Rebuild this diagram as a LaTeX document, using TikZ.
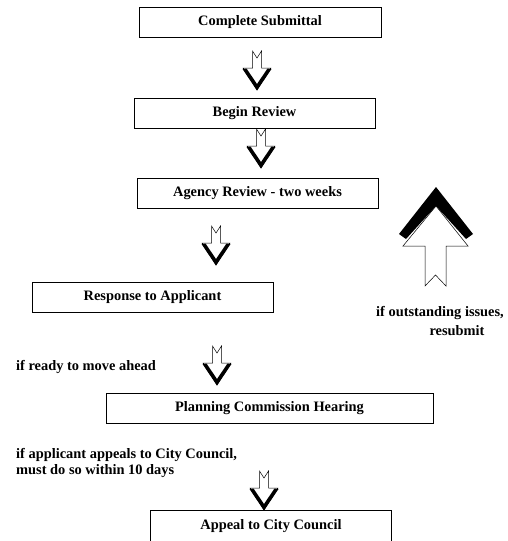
\documentclass[tikz,border=0pt]{standalone}
\usepackage{fontspec}
\setmainfont{Liberation Serif}
\begin{document}
\begin{tikzpicture}[x=1pt,y=-1pt,
  box/.style={draw, line width=0.8pt, minimum height=30pt, inner sep=0pt,
    font=\fontsize{14.4}{16}\selectfont\bfseries},
  lbl/.style={inner sep=0pt, font=\fontsize{14.4}{16}\selectfont\bfseries},
  downarrow/.pic={
    \filldraw[fill=white, draw=black, line width=0.5pt]
      (-4.5,-39) -- (0,-32) -- (4.5,-39) -- (4.5,-22) -- (14,-22) -- (0,0)
      -- (-14,-22) -- (-4.5,-22) -- cycle;
    \fill[black] (-14.5,-21) -- (0,0.5) -- (14.5,-21) -- (10.5,-21.5)
      -- (0,-6) -- (-10.5,-21.5) -- cycle;
  }]
\useasboundingbox (0,0) rectangle (507,541);
% boxes
\node[box, minimum width=242pt] (b1) at (260,22.5) {Complete Submittal};
\node[box, minimum width=241pt] (b2) at (254.5,113) {Begin Review};
\node[box, minimum width=241pt] (b3) at (257.5,193.5) {Agency Review - two weeks};
\node[box, minimum width=241pt] (b4) at (152.5,297) {Response to Applicant};
\node[box, minimum width=327pt] (b5) at (269.5,408) {Planning Commission Hearing};
\node[box, draw=none, minimum width=240pt] (b6) at (271,526) {Appeal to City Council};
\draw[line width=0.8pt] (b6.south west) -- (b6.north west) -- (b6.north east) -- (b6.south east);
% down arrows
\pic at (257,90) {downarrow};
\pic at (261,168) {downarrow};
\pic at (216,265) {downarrow};
\pic at (217,385) {downarrow};
\pic at (264,510) {downarrow};
% big up arrow
\filldraw[fill=white, draw=black, line width=0.5pt]
  (425,286) -- (435.5,275) -- (446,286) -- (446,246) -- (468,246) -- (436,206)
  -- (403,246) -- (425,246) -- cycle;
\fill[black] (399,234) -- (436,187) -- (473,234) -- (466,239) -- (436,206)
  -- (406,239) -- cycle;
% labels
\node[lbl] (t1) at (440,313) {if outstanding issues,};
\node[lbl] (t2) at (457,331) {resubmit};
\node[lbl, anchor=west] (t3) at (16,367) {if ready to move ahead};
\node[lbl, anchor=west] (t4) at (16,455) {if applicant appeals to City Council,};
\node[lbl, anchor=west] (t5) at (16,471) {must do so within 10 days};
\end{tikzpicture}
\end{document}
